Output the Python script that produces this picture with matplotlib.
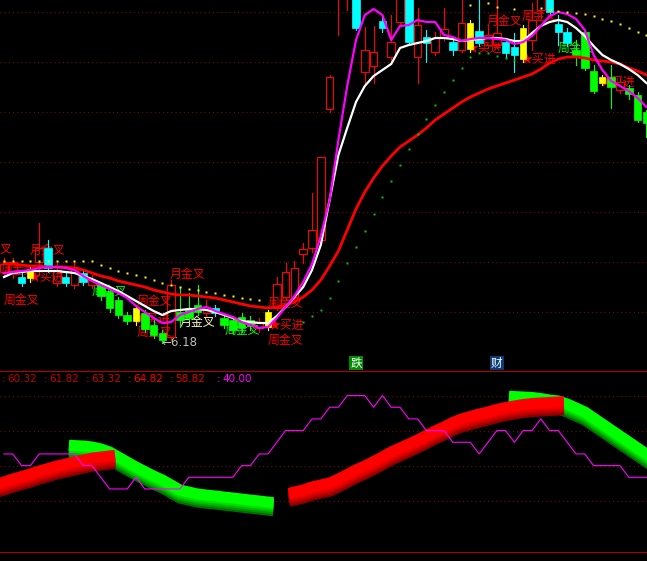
import numpy as np
import matplotlib
matplotlib.use('Agg')
import matplotlib.pyplot as plt
from matplotlib.patches import Rectangle
from matplotlib.lines import Line2D

plt.rcParams['font.family'] = ['Noto Sans CJK SC', 'DejaVu Sans']

nan = np.nan
# ---------------- top panel: daily candles ----------------
opn = [7.60, 7.58, 7.50, 7.48, 7.80, 8.08, 7.38, 7.50, 7.34, 7.58,
       7.34, 7.36, 7.20, 7.04, 6.74, 6.62, 6.78, 6.54, 6.38, 6.30,
       6.80, 6.84, 6.94, 6.78, 6.88, 6.68, 6.64, 6.70, 6.64, 6.48,
       6.50, 6.88, 7.10, 7.10, 7.96, 8.08, 8.24, 10.86, 13.08, 13.14,
       13.24, 11.60, 11.72, 12.62, 11.90, 12.60, 13.14, 11.90, 12.30, 12.00,
       12.30, 12.20, 12.04, 12.06, 12.42, 12.14, 12.14, 12.20, 12.10, 11.86,
       12.24, 12.84, 13.14, 12.56, 12.40, 12.04, 12.40, 11.62, 11.38, 11.50,
       11.24, 11.28, 11.14, 10.80]
cls = [7.76, 7.80, 7.38, 7.66, 8.08, 7.68, 7.64, 7.38, 7.70, 7.40,
       7.44, 7.12, 6.88, 6.74, 6.62, 6.88, 6.46, 6.34, 6.24, 7.34,
       6.64, 6.68, 6.80, 6.90, 6.78, 6.54, 6.44, 6.48, 6.52, 6.60,
       6.80, 7.36, 7.60, 7.68, 8.06, 8.44, 9.90, 11.50, 13.44, 13.34,
       12.48, 12.04, 12.00, 12.48, 12.20, 13.14, 12.20, 12.54, 12.18, 12.28,
       12.46, 12.04, 12.58, 12.58, 12.18, 12.34, 12.38, 11.98, 11.94, 12.48,
       12.64, 13.14, 12.80, 12.40, 12.18, 11.94, 11.68, 11.22, 11.50, 11.30,
       11.40, 11.16, 10.64, 10.58]
hi = [7.88, 7.88, 7.60, 7.74, 8.58, 8.24, 7.80, 7.60, 7.80, 7.64,
      7.54, 7.40, 7.28, 7.10, 6.80, 6.94, 6.84, 6.64, 6.44, 7.44,
      7.30, 7.18, 7.34, 7.04, 6.94, 6.74, 6.72, 6.78, 6.72, 6.68,
      6.84, 7.50, 7.78, 7.82, 8.18, 9.18, 9.90, 11.54, 13.54, 13.64,
      13.44, 12.50, 12.52, 12.74, 12.74, 13.24, 13.24, 12.88, 12.44, 12.40,
      12.88, 12.28, 13.04, 12.64, 13.14, 12.54, 13.04, 12.28, 12.38, 12.54,
      12.98, 13.24, 13.24, 12.74, 12.48, 12.24, 12.44, 11.74, 11.54, 11.74,
      11.48, 11.34, 11.20, 10.84]
lo = [7.52, 7.48, 7.32, 7.40, 7.54, 7.60, 7.32, 7.32, 7.28, 7.34,
      7.28, 7.04, 6.80, 6.68, 6.56, 6.54, 6.40, 6.28, 6.18, 6.24,
      6.50, 6.64, 6.74, 6.72, 6.72, 6.48, 6.38, 6.40, 6.44, 6.40,
      6.44, 6.84, 7.04, 7.04, 7.78, 8.00, 8.20, 10.80, 12.34, 12.84,
      12.44, 11.38, 11.38, 12.40, 11.84, 12.54, 12.14, 11.38, 11.80, 11.94,
      12.24, 11.94, 12.00, 12.00, 12.12, 12.08, 12.08, 11.90, 11.60, 11.80,
      12.04, 12.68, 12.74, 12.14, 12.12, 11.74, 11.64, 11.18, 11.34, 10.88,
      11.18, 11.06, 10.60, 10.30]
# candle colouring class: up = red hollow, dn = cyan, wk = green, sg = yellow signal
kind = ['up', 'up', 'dn', 'sg', 'up', 'dn', 'up', 'dn', 'up', 'dn',
        'up', 'wk', 'wk', 'wk', 'wk', 'sg', 'wk', 'wk', 'wk', 'up',
        'wk', 'wk', 'wk', 'up', 'dn', 'wk', 'wk', 'wk', 'wk', 'up',
        'sg', 'up', 'up', 'up', 'up', 'up', 'up', 'up', 'up', 'up',
        'dn', 'up', 'up', 'dn', 'up', 'up', 'dn', 'up', 'dn', 'up',
        'up', 'dn', 'up', 'sg', 'dn', 'up', 'up', 'dn', 'dn', 'sg',
        'up', 'up', 'dn', 'dn', 'dn', 'wk', 'wk', 'wk', 'sg', 'wk',
        'up', 'wk', 'wk', 'wk']

ma_fast = [7.58, 7.60, 7.62, 7.64, 7.68, 7.70, 7.70, 7.68, 7.64, 7.52,
           7.42, 7.34, 7.26, 7.18, 7.08, 6.92, 6.80, 6.68, 6.58, 6.60,
           6.74, 6.80, 6.86, 6.90, 6.82, 6.76, 6.70, 6.60, 6.54, 6.48,
           6.50, 6.68, 6.90, 7.12, 7.40, 7.76, 8.32, 9.04, 10.24, 11.32,
           12.24, 12.74, 12.86, 12.74, 12.24, 12.52, 12.54, 12.64, 12.60, 12.60,
           12.34, 12.30, 12.22, 12.26, 12.28, 12.28, 12.26, 12.24, 12.16, 12.20,
           12.32, 12.52, 12.72, 12.80, 12.76, 12.66, 12.44, 11.94, 11.64, 11.42,
           11.32, 11.22, 11.08, 10.90]
ma_mid = [7.50, 7.58, 7.60, 7.62, 7.62, 7.62, 7.62, 7.60, 7.58, 7.52,
          7.46, 7.38, 7.30, 7.22, 7.12, 7.02, 6.92, 6.82, 6.74, 6.82,
          6.84, 6.86, 6.86, 6.84, 6.80, 6.74, 6.68, 6.62, 6.60, 6.58,
          6.58, 6.72, 6.90, 7.10, 7.30, 7.64, 8.14, 9.04, 9.94, 10.48,
          11.00, 11.32, 11.52, 11.64, 11.76, 12.08, 12.14, 12.18, 12.22, 12.28,
          12.28, 12.26, 12.22, 12.24, 12.26, 12.28, 12.28, 12.26, 12.22, 12.22,
          12.38, 12.52, 12.60, 12.64, 12.60, 12.48, 12.32, 12.12, 11.94, 11.84,
          11.76, 11.66, 11.54, 11.38]
ma_slow = [7.78, 7.76, 7.74, 7.72, 7.72, 7.70, 7.70, 7.70, 7.68, 7.64,
           7.58, 7.52, 7.48, 7.42, 7.38, 7.34, 7.30, 7.24, 7.20, 7.16,
           7.14, 7.14, 7.12, 7.10, 7.08, 7.04, 7.00, 6.96, 6.92, 6.90,
           6.88, 6.90, 6.94, 7.00, 7.10, 7.24, 7.44, 7.72, 8.02, 8.44,
           8.86, 9.20, 9.48, 9.72, 9.92, 10.10, 10.22, 10.34, 10.48, 10.64,
           10.76, 10.88, 11.00, 11.10, 11.18, 11.26, 11.32, 11.38, 11.44, 11.50,
           11.56, 11.66, 11.78, 11.86, 11.90, 11.90, 11.88, 11.84, 11.82, 11.80,
           11.76, 11.68, 11.62, 11.54]
stop_above = [7.82, 7.82, 7.82, 7.82, 7.82, 7.82, 7.82, 7.82, 7.82, 7.82,
              7.82, 7.74, 7.68, 7.62, 7.58, 7.54, 7.50, 7.44, 7.38, 7.34,
              7.30, 7.26, 7.24, 7.20, 7.18, 7.14, 7.12, 7.08, 7.06, 7.04,
              nan, nan, nan, nan, nan, nan, nan, nan, nan, nan,
              nan, nan, nan, nan, nan, nan, nan, nan, nan, nan,
              nan, nan, nan, 12.94, nan, 12.98, 12.90, nan, 12.86, nan,
              nan, 12.88, 12.84, 12.82, 12.80, 12.78, 12.76, 12.72, 12.66, 12.62,
              12.56, 12.48, 12.40, 12.34]
stop_below = [nan, nan, nan, nan, nan, nan, nan, nan, nan, nan,
              nan, nan, nan, nan, nan, nan, nan, nan, nan, nan,
              nan, nan, nan, nan, nan, nan, nan, nan, nan, nan,
              nan, nan, nan, nan, 6.60, 6.72, 6.84, 7.08, 7.42, 7.78,
              8.10, 8.42, 8.76, 9.10, 9.42, 9.74, 10.06, 10.36, 10.66, 10.94,
              11.20, 11.44, 11.68, 11.90, 11.98, 11.98, 11.92, 11.88, 11.84, nan,
              nan, nan, nan, nan, nan, nan, nan, nan, nan, nan,
              nan, nan, nan, nan]

# signal labels: (bar position of left edge, price, text, colour)
labels = [
    (-0.45, 8.04, '叉', '#FF0000'),
    (2.95, 8.04, '月金叉', '#FF0000'),
    (-0.4, 7.64, '周金叉', '#FF0000'),
    (2.84, 7.50, '★买进', '#FF0000'),
    (0.0, 7.04, '周金叉', '#FF0000'),
    (10.0, 7.22, '周金叉', '#00FF00'),
    (18.86, 7.56, '月金叉', '#FF0000'),
    (15.11, 7.02, '周金叉', '#FF0000'),
    (14.89, 6.66, '★买进', '#FF0000'),
    (15.11, 6.40, '周金叉', '#FF0000'),
    (20.0, 6.60, '月金叉', '#FFFFC0'),
    (25.11, 6.44, '周金叉', '#00FF00'),
    (30.0, 6.98, '周金叉', '#FF0000'),
    (30.1, 6.54, '★买进', '#FF0000'),
    (30.0, 6.24, '周金叉', '#FF0000'),
    (54.89, 12.62, '月金叉', '#FF0000'),
    (58.86, 12.72, '周金叉', '#FF0000'),
    (52.6, 12.08, '★买进', '#FF0000'),
    (58.75, 11.86, '★买进', '#FF0000'),
    (62.95, 12.08, '周金叉', '#00FF00'),
    (67.7, 11.40, '★买进', '#FF0000'),
]
low_bar, low_price = 18, 6.18

# ---------------- bottom panel ----------------
band_up = [36.0, 38.5, 40.7, 42.8, 45.4, 47.5, 49.7, 51.4, 53.1, 54.8,
           56.5, 57.4, 58.3, nan, nan, nan, nan, nan, nan, nan,
           nan, nan, nan, nan, nan, nan, nan, nan, nan, nan,
           nan, nan, nan, 27.4, 29.1, 31.7, 33.4, 35.1, 38.5, 42.4,
           46.3, 49.7, 53.5, 57.4, 61.7, 65.1, 68.5, 72.0, 75.8, 79.7,
           83.1, 87.0, 90.0, 92.1, 94.2, 96.0, 98.1, 99.8, 101.1, 102.4,
           103.2, 103.7, 104.1, 104.5, nan, nan, nan, nan, nan, nan,
           nan, nan, nan, nan]
band_dn = [nan, nan, nan, nan, nan, nan, nan, nan, 67.2, 66.8,
           66.0, 64.3, 61.7, 57.4, 53.1, 48.8, 45.0, 41.1, 37.7, 33.4,
           29.1, 27.4, 25.7, 24.8, 24.0, 23.1, 22.3, 21.4, 20.5, 19.7,
           18.8, nan, nan, nan, nan, nan, nan, nan, nan, nan,
           nan, nan, nan, nan, nan, nan, nan, nan, nan, nan,
           nan, nan, nan, nan, nan, nan, nan, nan, 109.2, 108.8,
           108.4, 107.5, 106.2, 105.4, 102.8, 99.4, 96.0, 90.8, 85.7, 80.5,
           75.4, 70.3, 65.1, 60.0]
band_offsets = [-7.0, -5.25, -3.5, -1.75, 0.0]
step_line = [60, 60, 50, 50, 60, 60, 60, 60, 60, 50,
             50, 40, 30, 30, 30, 40, 30, 30, 30, 30,
             30, 40, 40, 40, 40, 40, 40, 50, 50, 60,
             60, 70, 80, 80, 80, 90, 90, 100, 100, 110,
             110, 110, 100, 110, 100, 100, 90, 90, 80, 80,
             80, 70, 70, 70, 60, 70, 80, 80, 70, 80,
             80, 90, 80, 80, 70, 60, 60, 50, 50, 50,
             50, 40, 40, 40]
header_vals = ['60.32', '61.82', '63.32', '64.82', '58.82', '40.00']
header_cols = ['#C00000', '#C80000', '#D00000', '#FF0000', '#E40000', '#FF00FF']

N = len(opn)
bars = np.arange(N)

W, H = 647, 561
fig = plt.figure(figsize=(W / 100, H / 100), dpi=100, facecolor='black')
ax = fig.add_axes([0, 1 - 370 / H, 1, 370 / H])
ax2 = fig.add_axes([0, 1 - 552 / H, 1, 180 / H])
for a in (ax, ax2):
    a.set_facecolor('black')
    a.set_xticks([]); a.set_yticks([])
    for s in a.spines.values():
        s.set_visible(False)
    a.set_xlim(-4 / 8.8, 643 / 8.8)
ax.set_ylim(5.64, 13.04)
ax2.set_ylim(-24.0, 130.2)

grid_kw = dict(color='#8C0000', lw=0.75, ls=(0, (1, 3)), zorder=0)
for p in [12.8, 11.8, 10.8, 9.8, 8.8, 7.8, 6.8]:
    ax.axhline(p, **grid_kw)
for v in [110, 80, 50, 20]:
    ax2.axhline(v, **grid_kw)

# labels (behind candles)
for bx, py, t, c in labels:
    ax.text(bx, py, t, color=c, fontsize=8.6, ha='left', va='center',
            zorder=1, clip_on=True)
ax.text(low_bar - 0.05, low_price, '←6.18', color='#C0C0C0', fontsize=8.5,
        family=['DejaVu Sans'], ha='left', va='center', zorder=1)

colmap = {'up': '#FF0000', 'dn': '#00FFFF', 'wk': '#00FF00', 'sg': '#FFFF00'}
for i in range(N):
    o, c, h, l = opn[i], cls[i], hi[i], lo[i]
    k = kind[i]
    col = colmap[k]
    top, bot = max(o, c), min(o, c)
    bw = 0.66 if k == 'sg' else 0.86
    if k == 'up':
        ax.plot([i, i], [top, h], color=col, lw=0.8, zorder=2)
        ax.plot([i, i], [l, bot], color=col, lw=0.8, zorder=2)
        ax.add_patch(Rectangle((i - bw / 2, bot), bw, top - bot, fill=False,
                               edgecolor=col, lw=0.8, zorder=2))
    else:
        ax.plot([i, i], [l, h], color=col, lw=0.8, zorder=2)
        ax.add_patch(Rectangle((i - bw / 2, bot), bw, max(top - bot, 0.02),
                               facecolor=col, edgecolor=col, lw=0.5, zorder=2))

ax.plot(bars, ma_slow, color='#FF0000', lw=2.0, zorder=3)
ax.plot(bars, ma_mid, color='#FFFFFF', lw=1.6, zorder=3)
ax.plot(bars, ma_fast, color='#FF00FF', lw=1.6, zorder=3)
ax.plot(bars, stop_above, ls='none', marker='s', ms=1.8, color='#FFFF00',
        mec='none', zorder=4)
ax.plot(bars, stop_below, ls='none', marker='s', ms=2.0, color='#00C800',
        mec='none', zorder=4)

for t, x, fc in [('跌', 40, '#008C00'), ('财', 56, '#0A3C78')]:
    ax.text(x, 5.78, t, color='white', fontsize=8.4, ha='center', va='center',
            zorder=5, bbox=dict(boxstyle='square,pad=0.08', fc=fc, ec='none'))

# bottom: shaded bands
dn_shades = ['#007000', '#009600', '#00BC00', '#00E000', '#00FF00']
up_shades = ['#880000', '#AA0000', '#CC0000', '#E80000', '#FF0000']
bd = np.array(band_dn, dtype=float)
bu = np.array(band_up, dtype=float)
for off, col in zip(band_offsets, dn_shades):
    ax2.plot(bars, bd + off, color=col, lw=7.9, solid_capstyle='projecting',
             solid_joinstyle='round', zorder=2)
for off, col in zip(band_offsets, up_shades):
    ax2.plot(bars, bu + off, color=col, lw=7.9, solid_capstyle='projecting',
             solid_joinstyle='round', zorder=3)
ax2.plot(bars, step_line, color='#FF00FF', lw=0.8, zorder=4)

# header values
xs_colon = [2, 44, 86, 128, 170, 217]
for xc, v, c in zip(xs_colon, header_vals, header_cols):
    fig.text(xc / W, 1 - 379 / H, ':', color=c, fontsize=7.5,
             family=['DejaVu Sans'], ha='left', va='center')
    fig.text((xc + 5) / W, 1 - 379 / H, v, color=c, fontsize=7.5,
             family=['DejaVu Sans'], ha='left', va='center')

# panel separators
for yy in (371, 552):
    fig.add_artist(Line2D([0, 1], [1 - yy / H, 1 - yy / H], color='#B00000', lw=0.8))

fig.savefig('out.png', dpi=100, facecolor='black')
